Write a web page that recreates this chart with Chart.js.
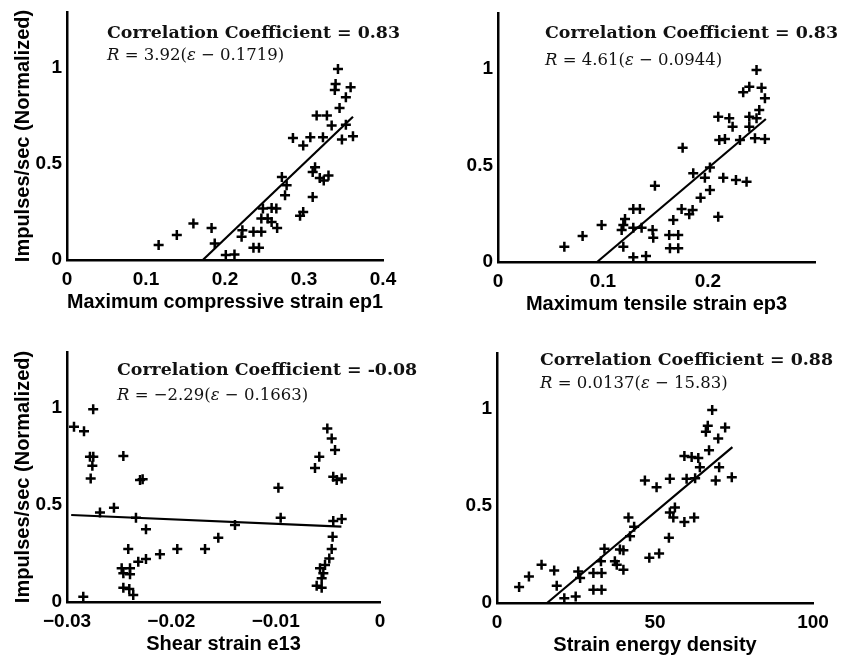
<!DOCTYPE html>
<html lang="en">
<head>
<meta charset="UTF-8" />
<title>Impulses vs strain</title>
<script src="https://cdn.jsdelivr.net/npm/chart.js"></script>
<style>
  body { margin: 0; width: 845px; height: 656px; background: #fff; position: relative; overflow: hidden; }
  canvas { position: absolute; }
  .note { position: absolute; font-family: "DejaVu Serif", serif; color: #111; white-space: nowrap; line-height: 1; }
  .cc { font-size: 17.4px; font-weight: bold; }
  .eq { font-size: 16.5px; }
</style>
</head>
<body>
<canvas id="c1"></canvas>
<canvas id="c2"></canvas>
<canvas id="c3"></canvas>
<canvas id="c4"></canvas>

<div class="note cc" style="left:107px; top:24px;">Correlation Coefficient = 0.83</div>
<div class="note eq" style="left:107px; top:47px;"><i>R</i> = 3.92(<i>ε</i> − 0.1719)</div>
<div class="note cc" style="left:545px; top:24px;">Correlation Coefficient = 0.83</div>
<div class="note eq" style="left:545px; top:52px;"><i>R</i> = 4.61(<i>ε</i> − 0.0944)</div>
<div class="note cc" style="left:117px; top:361px;">Correlation Coefficient = -0.08</div>
<div class="note eq" style="left:117px; top:387px;"><i>R</i> = −2.29(<i>ε</i> − 0.1663)</div>
<div class="note cc" style="left:540px; top:351px;">Correlation Coefficient = 0.88</div>
<div class="note eq" style="left:540px; top:375px;"><i>R</i> = 0.0137(<i>ε</i> − 15.83)</div>

<script>
  // values
  const ep1X = [0.343, 0.340, 0.359, 0.339, 0.353, 0.345, 0.316, 0.329, 0.335, 0.353, 0.286, 0.299, 0.308, 0.324, 0.348, 0.362,
                0.314, 0.311, 0.320, 0.331, 0.325, 0.272, 0.278, 0.276, 0.311, 0.295, 0.299, 0.248, 0.259, 0.265, 0.246, 0.254,
                0.259, 0.266, 0.222, 0.221, 0.236, 0.246, 0.236, 0.243, 0.201, 0.212, 0.116, 0.139, 0.160, 0.183, 0.187];
  const ep1Y = [0.993, 0.915, 0.898, 0.884, 0.846, 0.791, 0.751, 0.751, 0.699, 0.703, 0.634, 0.596, 0.639, 0.639, 0.627, 0.644,
                0.483, 0.458, 0.427, 0.440, 0.413, 0.432, 0.389, 0.337, 0.328, 0.230, 0.250, 0.268, 0.271, 0.268, 0.216, 0.216,
                0.198, 0.167, 0.155, 0.121, 0.147, 0.147, 0.064, 0.064, 0.026, 0.029, 0.078, 0.130, 0.190, 0.167, 0.086];

  const ep3X = [0.2463, 0.2336, 0.2394, 0.2511, 0.2543, 0.2489, 0.2394, 0.2463, 0.2098, 0.2203, 0.2235, 0.2394, 0.2108, 0.2162,
                0.2305, 0.2448, 0.2543, 0.1759, 0.2019, 0.1860, 0.1971, 0.2146, 0.2267, 0.2368, 0.1495, 0.2019, 0.1930, 0.1749,
                0.1854, 0.1822, 0.1289, 0.1352, 0.2098, 0.1670, 0.1210, 0.1194, 0.1178, 0.1289, 0.1368, 0.1473, 0.1479, 0.1631,
                0.1717, 0.1638, 0.1717, 0.1194, 0.1289, 0.1410, 0.0987, 0.0806, 0.0632];
  const ep3Y = [0.995, 0.879, 0.908, 0.903, 0.848, 0.788, 0.753, 0.745, 0.753, 0.745, 0.701, 0.701, 0.632, 0.637,
                0.632, 0.641, 0.637, 0.592, 0.489, 0.460, 0.437, 0.437, 0.425, 0.416, 0.395, 0.373, 0.333, 0.275,
                0.269, 0.247, 0.275, 0.275, 0.235, 0.218, 0.223, 0.192, 0.166, 0.178, 0.178, 0.166, 0.126, 0.140,
                0.140, 0.071, 0.071, 0.079, 0.024, 0.031, 0.192, 0.135, 0.079];

  const e13X = [-0.02749, -0.02933, -0.02837, -0.02780, -0.02748, -0.02757, -0.02773, -0.02460, -0.02300, -0.02275, -0.02684,
                -0.02550, -0.02339, -0.02243, -0.02413, -0.02476, -0.02396, -0.02460, -0.02396, -0.02317, -0.02243, -0.02460,
                -0.02403, -0.02365, -0.02844, -0.02109, -0.01943, -0.01677, -0.01550, -0.01390, -0.00974, -0.00952, -0.00505,
                -0.00463, -0.00431, -0.00582, -0.00623, -0.00448, -0.00415, -0.00367, -0.00448, -0.00367, -0.00454, -0.00463,
                -0.00486, -0.00527, -0.00575, -0.00543, -0.00559, -0.00607, -0.00559];
  const e13Y = [0.995, 0.904, 0.881, 0.749, 0.749, 0.703, 0.637, 0.753, 0.629, 0.634, 0.462,
                0.486, 0.435, 0.376, 0.273, 0.174, 0.174, 0.148, 0.143, 0.208, 0.222, 0.074,
                0.067, 0.036, 0.027, 0.246, 0.273, 0.273, 0.332, 0.397, 0.589, 0.435, 0.895,
                0.844, 0.784, 0.749, 0.692, 0.646, 0.629, 0.637, 0.418, 0.428, 0.337, 0.273,
                0.225, 0.191, 0.174, 0.148, 0.122, 0.084, 0.074];

  const sedX = [68.1, 66.7, 66.1, 72.2, 70.0, 67.1, 59.3, 61.6, 63.7, 64.2, 70.3, 46.8, 50.5, 54.7, 60.0, 62.7, 69.2, 74.3,
                56.3, 54.7, 55.8, 59.3, 62.4, 41.6, 43.4, 42.1, 54.4, 48.2, 51.3, 34.0, 38.9, 40.0, 32.9, 37.3, 37.9, 40.0,
                33.1, 30.5, 25.7, 26.3, 30.5, 33.1, 14.1, 18.1, 10.1, 7.0, 18.9, 21.3, 24.9];
  const sedY = [0.996, 0.915, 0.884, 0.905, 0.849, 0.788, 0.759, 0.754, 0.748, 0.701, 0.701, 0.632, 0.597, 0.641, 0.641, 0.644, 0.632, 0.649,
                0.493, 0.467, 0.441, 0.418, 0.441, 0.441, 0.394, 0.345, 0.337, 0.233, 0.255, 0.280, 0.276, 0.272, 0.215, 0.215, 0.198, 0.172,
                0.155, 0.155, 0.163, 0.129, 0.068, 0.068, 0.198, 0.168, 0.137, 0.082, 0.089, 0.024, 0.033];

  // fitted lines, end points
  const fit1X = [0.1719, 0.362], fit1Y = [0, 0.745];
  const fit2X = [0.0944, 0.2552], fit2Y = [0, 0.741];
  const fit3X = [-0.0296, -0.0037], fit3Y = [0.449, 0.389];
  const fit4X = [15.83, 74.5], fit4Y = [0, 0.804];

  const yTicks = [0, 0.5, 1];
  const ep1Ticks = [0, 0.1, 0.2, 0.3, 0.4];
  const ep3Ticks = [0, 0.1, 0.2];
  const e13Ticks = [-0.03, -0.02, -0.01, 0];
  const sedTicks = [0, 50, 100];

  const yTitle = 'Impulses/sec (Normalized)';
  const tickFont = { family: '"Liberation Sans", Arial, sans-serif', size: 19, weight: 'bold' };
  const titleFont = { family: '"Liberation Sans", Arial, sans-serif', size: 20, weight: 'bold' };

  function pts(xs, ys) {
    return xs.map((x, i) => ({ x: x, y: ys[i] }));
  }

  // box = plot area on the page: left, top, right, bottom
  function makePanel(id, box, xs, ys, fx, fy, xMin, xMax, xTicks, xTitle, showYTitle) {
    const padL = 70, padT = 30, padR = 30, padB = 60;
    const cv = document.getElementById(id);
    const w = box[2] - box[0] + padL + padR;
    const h = box[3] - box[1] + padT + padB;
    cv.style.left = (box[0] - padL) + 'px';
    cv.style.top = (box[1] - padT) + 'px';
    cv.style.width = w + 'px';
    cv.style.height = h + 'px';
    cv.width = w;
    cv.height = h;

    new Chart(cv, {
      type: 'scatter',
      data: {
        datasets: [{
          data: pts(xs, ys),
          pointStyle: 'cross',
          pointRadius: 5,
          pointHoverRadius: 5,
          pointBorderWidth: 2.5,
          borderColor: '#000',
          backgroundColor: '#000',
          clip: false
        }, {
          data: pts(fx, fy),
          showLine: true,
          pointRadius: 0,
          borderColor: '#000',
          borderWidth: 2.2,
          clip: false
        }]
      },
      options: {
        responsive: false,
        animation: false,
        layout: { padding: { top: padT, right: padR, left: 0, bottom: 0 } },
        plugins: { legend: { display: false }, tooltip: { enabled: false } },
        scales: {
          x: {
            type: 'linear',
            min: xMin,
            max: xMax,
            afterBuildTicks: s => { s.ticks = xTicks.map(v => ({ value: v })); },
            afterFit: s => { s.height = padB; },
            grid: { display: false, drawTicks: false },
            border: { display: true, color: '#000', width: 2.5 },
            ticks: {
              color: '#000', font: tickFont, padding: 8, maxRotation: 0,
              callback: v => String(v).replace('-', '\u2212')
            },
            title: { display: true, text: xTitle, color: '#000', font: titleFont, padding: { top: 0, bottom: 6 } }
          },
          y: {
            min: 0,
            max: 1.29,
            afterBuildTicks: s => { s.ticks = yTicks.map(v => ({ value: v })); },
            afterFit: s => { s.width = padL; },
            grid: { display: false, drawTicks: false },
            border: { display: true, color: '#000', width: 2.5 },
            ticks: { color: '#000', font: tickFont, padding: 5, callback: v => String(v) },
            title: { display: showYTitle, text: yTitle, color: '#000', font: titleFont, padding: { top: 14, bottom: 0 } }
          }
        }
      }
    });
  }

  makePanel('c1', [67, 12, 383, 260], ep1X, ep1Y, fit1X, fit1Y, 0, 0.4, ep1Ticks, 'Maximum compressive strain ep1', true);
  makePanel('c2', [498, 13, 815, 262], ep3X, ep3Y, fit2X, fit2Y, 0, 0.302, ep3Ticks, 'Maximum tensile strain ep3', false);
  makePanel('c3', [67, 352, 380, 602], e13X, e13Y, fit3X, fit3Y, -0.03, 0, e13Ticks, 'Shear strain e13', true);
  makePanel('c4', [497, 353, 813, 603], sedX, sedY, fit4X, fit4Y, 0, 100, sedTicks, 'Strain energy density', false);
</script>
</body>
</html>
